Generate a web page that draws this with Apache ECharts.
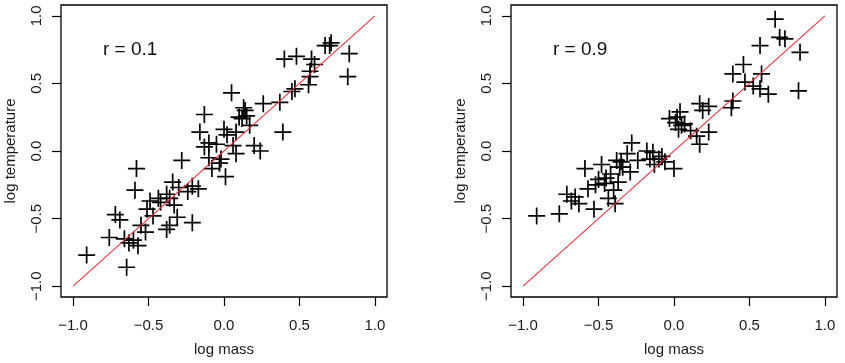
<!DOCTYPE html>
<html>
<head>
<meta charset="utf-8">
<script src="https://cdn.jsdelivr.net/npm/echarts@6/dist/echarts.min.js"></script>
<style>
html,body{margin:0;padding:0;background:#fff;}
#chart{width:845px;height:363px;}
</style>
</head>
<body>
<div id="chart"></div>
<script>
// ---- data ----
const tickValues = [-1, -0.5, 0, 0.5, 1];
const tickLabels = ['\u22121.0', '\u22120.5', '0.0', '0.5', '1.0'];
const panelLabels = ['r = 0.1', 'r = 0.9'];
const xTitle = 'log mass';
const yTitle = 'log temperature';
const refLine = [[-1, -1], [1, 1]];

const leftMass = [0.40,0.48,0.58,0.60,0.57,0.67,0.70,0.71,0.83,0.82,0.56,0.47,0.45,0.37,0.26,0.39,0.57,
  0.05,0.14,0.15,0.12,0.17,0.13,-0.13,-0.16,-0.10,-0.13,0.00,0.02,0.08,0.06,0.08,0.20,0.24,-0.28,-0.02,0.01,-0.08,-0.10,-0.21,-0.17,-0.03,0.10,-0.05,
  -0.91,-0.645,-0.76,-0.66,-0.57,-0.72,-0.69,-0.58,-0.59,-0.52,-0.49,-0.51,-0.435,-0.38,-0.36,-0.34,-0.38,-0.31,-0.24,-0.21,-0.47,-0.63,-0.60,-0.55,-0.33,-0.36,-0.42,-0.30];
const leftTemp = [0.68,0.70,0.68,0.64,0.59,0.78,0.78,0.80,0.72,0.55,0.49,0.46,0.44,0.36,0.35,0.14,0.55,
  0.43,0.30,0.26,0.24,0.19,0.32,0.27,0.14,0.06,0.03,0.16,0.12,0.14,0.04,-0.02,0.04,0.00,-0.07,-0.06,-0.19,-0.13,-0.05,-0.26,-0.28,-0.09,0.25,0.05,
  -0.77,-0.86,-0.64,-0.65,-0.70,-0.47,-0.51,-0.13,-0.29,-0.60,-0.37,-0.43,-0.35,-0.32,-0.35,-0.23,-0.58,-0.49,-0.30,-0.53,-0.48,-0.68,-0.66,-0.55,-0.40,-0.55,-0.38,-0.27];

const rightMass = [-0.91,-0.76,-0.71,-0.655,-0.68,-0.63,-0.59,-0.57,-0.53,-0.50,-0.48,-0.46,-0.42,-0.435,-0.39,-0.40,-0.37,-0.38,-0.35,-0.36,-0.28,-0.31,-0.24,-0.29,-0.34,-0.52,-0.45,
  -0.14,-0.16,-0.10,-0.18,-0.13,0.00,-0.03,0.01,0.04,0.03,0.05,0.11,0.17,0.19,0.23,0.17,0.15,0.23,0.02,0.07,-0.08,-0.06,
  0.67,0.70,0.735,0.835,0.825,0.57,0.46,0.39,0.47,0.58,0.525,0.57,0.625,0.39,0.38];
const rightTemp = [-0.48,-0.465,-0.32,-0.34,-0.37,-0.39,-0.13,-0.28,-0.43,-0.21,-0.10,-0.24,-0.17,-0.35,-0.39,-0.29,-0.23,-0.07,-0.08,-0.12,0.06,-0.02,-0.07,-0.155,-0.12,-0.25,-0.20,
  -0.01,-0.06,-0.06,0.00,-0.10,-0.13,0.24,0.21,0.29,0.16,0.19,0.15,0.35,0.30,0.33,0.05,0.11,0.14,0.25,0.20,-0.04,-0.08,
  0.975,0.84,0.83,0.73,0.445,0.78,0.64,0.57,0.51,0.57,0.48,0.46,0.42,0.37,0.32];

// ---- build ----
const pairs = (xs, ys) => xs.map((x, i) => [x, ys[i]]);
const FONT = '"Liberation Sans", Arial, sans-serif';
const labelFmt = v => { const i = tickValues.findIndex(t => Math.abs(t - v) < 1e-9); return i >= 0 ? tickLabels[i] : ''; };
const crossPath = 'path://M0,-10L0,10M-10,0L10,0';

const gridLefts = [61, 511];
const grids = gridLefts.map(l => ({ left: l, top: 5, width: 326, height: 292, show: true, borderColor: '#000', borderWidth: 1.3, backgroundColor: '#fff' }));

const xAxes = gridLefts.map((_, i) => ({
  type: 'value', gridIndex: i, min: -1.08, max: 1.08,
  axisLine: { show: false, onZero: false }, splitLine: { show: false },
  axisTick: { show: true, customValues: tickValues, length: 9, lineStyle: { color: '#000', width: 1.2 } },
  axisLabel: { customValues: tickValues, formatter: labelFmt, margin: 21, fontSize: 15, fontFamily: FONT, color: '#1a1a1a' },
  name: xTitle, nameLocation: 'middle', nameGap: 45,
  nameTextStyle: { fontSize: 15, fontFamily: FONT, color: '#1a1a1a' }
}));
const yAxes = gridLefts.map((_, i) => ({
  type: 'value', gridIndex: i, min: -1.08, max: 1.08,
  axisLine: { show: false, onZero: false }, splitLine: { show: false },
  axisTick: { show: true, customValues: tickValues, length: 9, lineStyle: { color: '#000', width: 1.2 } },
  axisLabel: { customValues: tickValues, formatter: labelFmt, rotate: 90, margin: 17, fontSize: 15, fontFamily: FONT, color: '#1a1a1a' },
  name: yTitle, nameLocation: 'middle', nameGap: 43, nameRotate: 90,
  nameTextStyle: { fontSize: 15, fontFamily: FONT, color: '#1a1a1a' }
}));

const scatterData = [pairs(leftMass, leftTemp), pairs(rightMass, rightTemp)];
const series = [];
scatterData.forEach((d, i) => {
  series.push({
    type: 'scatter', xAxisIndex: i, yAxisIndex: i, data: d,
    symbol: crossPath, symbolSize: 17, silent: true,
    itemStyle: { color: 'none', borderColor: '#000', borderWidth: 1.7, opacity: 1 },
    z: 2
  });
  series.push({
    type: 'line', xAxisIndex: i, yAxisIndex: i, data: refLine,
    symbol: 'none', silent: true,
    lineStyle: { color: '#e8303c', width: 1.1 },
    z: 3
  });
});

const chart = echarts.init(document.getElementById('chart'), null, { renderer: 'canvas' });
chart.setOption({
  animation: false,
  backgroundColor: '#fff',
  grid: grids, xAxis: xAxes, yAxis: yAxes, series: series,
  graphic: gridLefts.map((l, i) => ({
    type: 'text', left: l + 42, top: 40,
    style: { text: panelLabels[i], font: '19px ' + FONT, fill: '#111' }
  }))
});
</script>
</body>
</html>
